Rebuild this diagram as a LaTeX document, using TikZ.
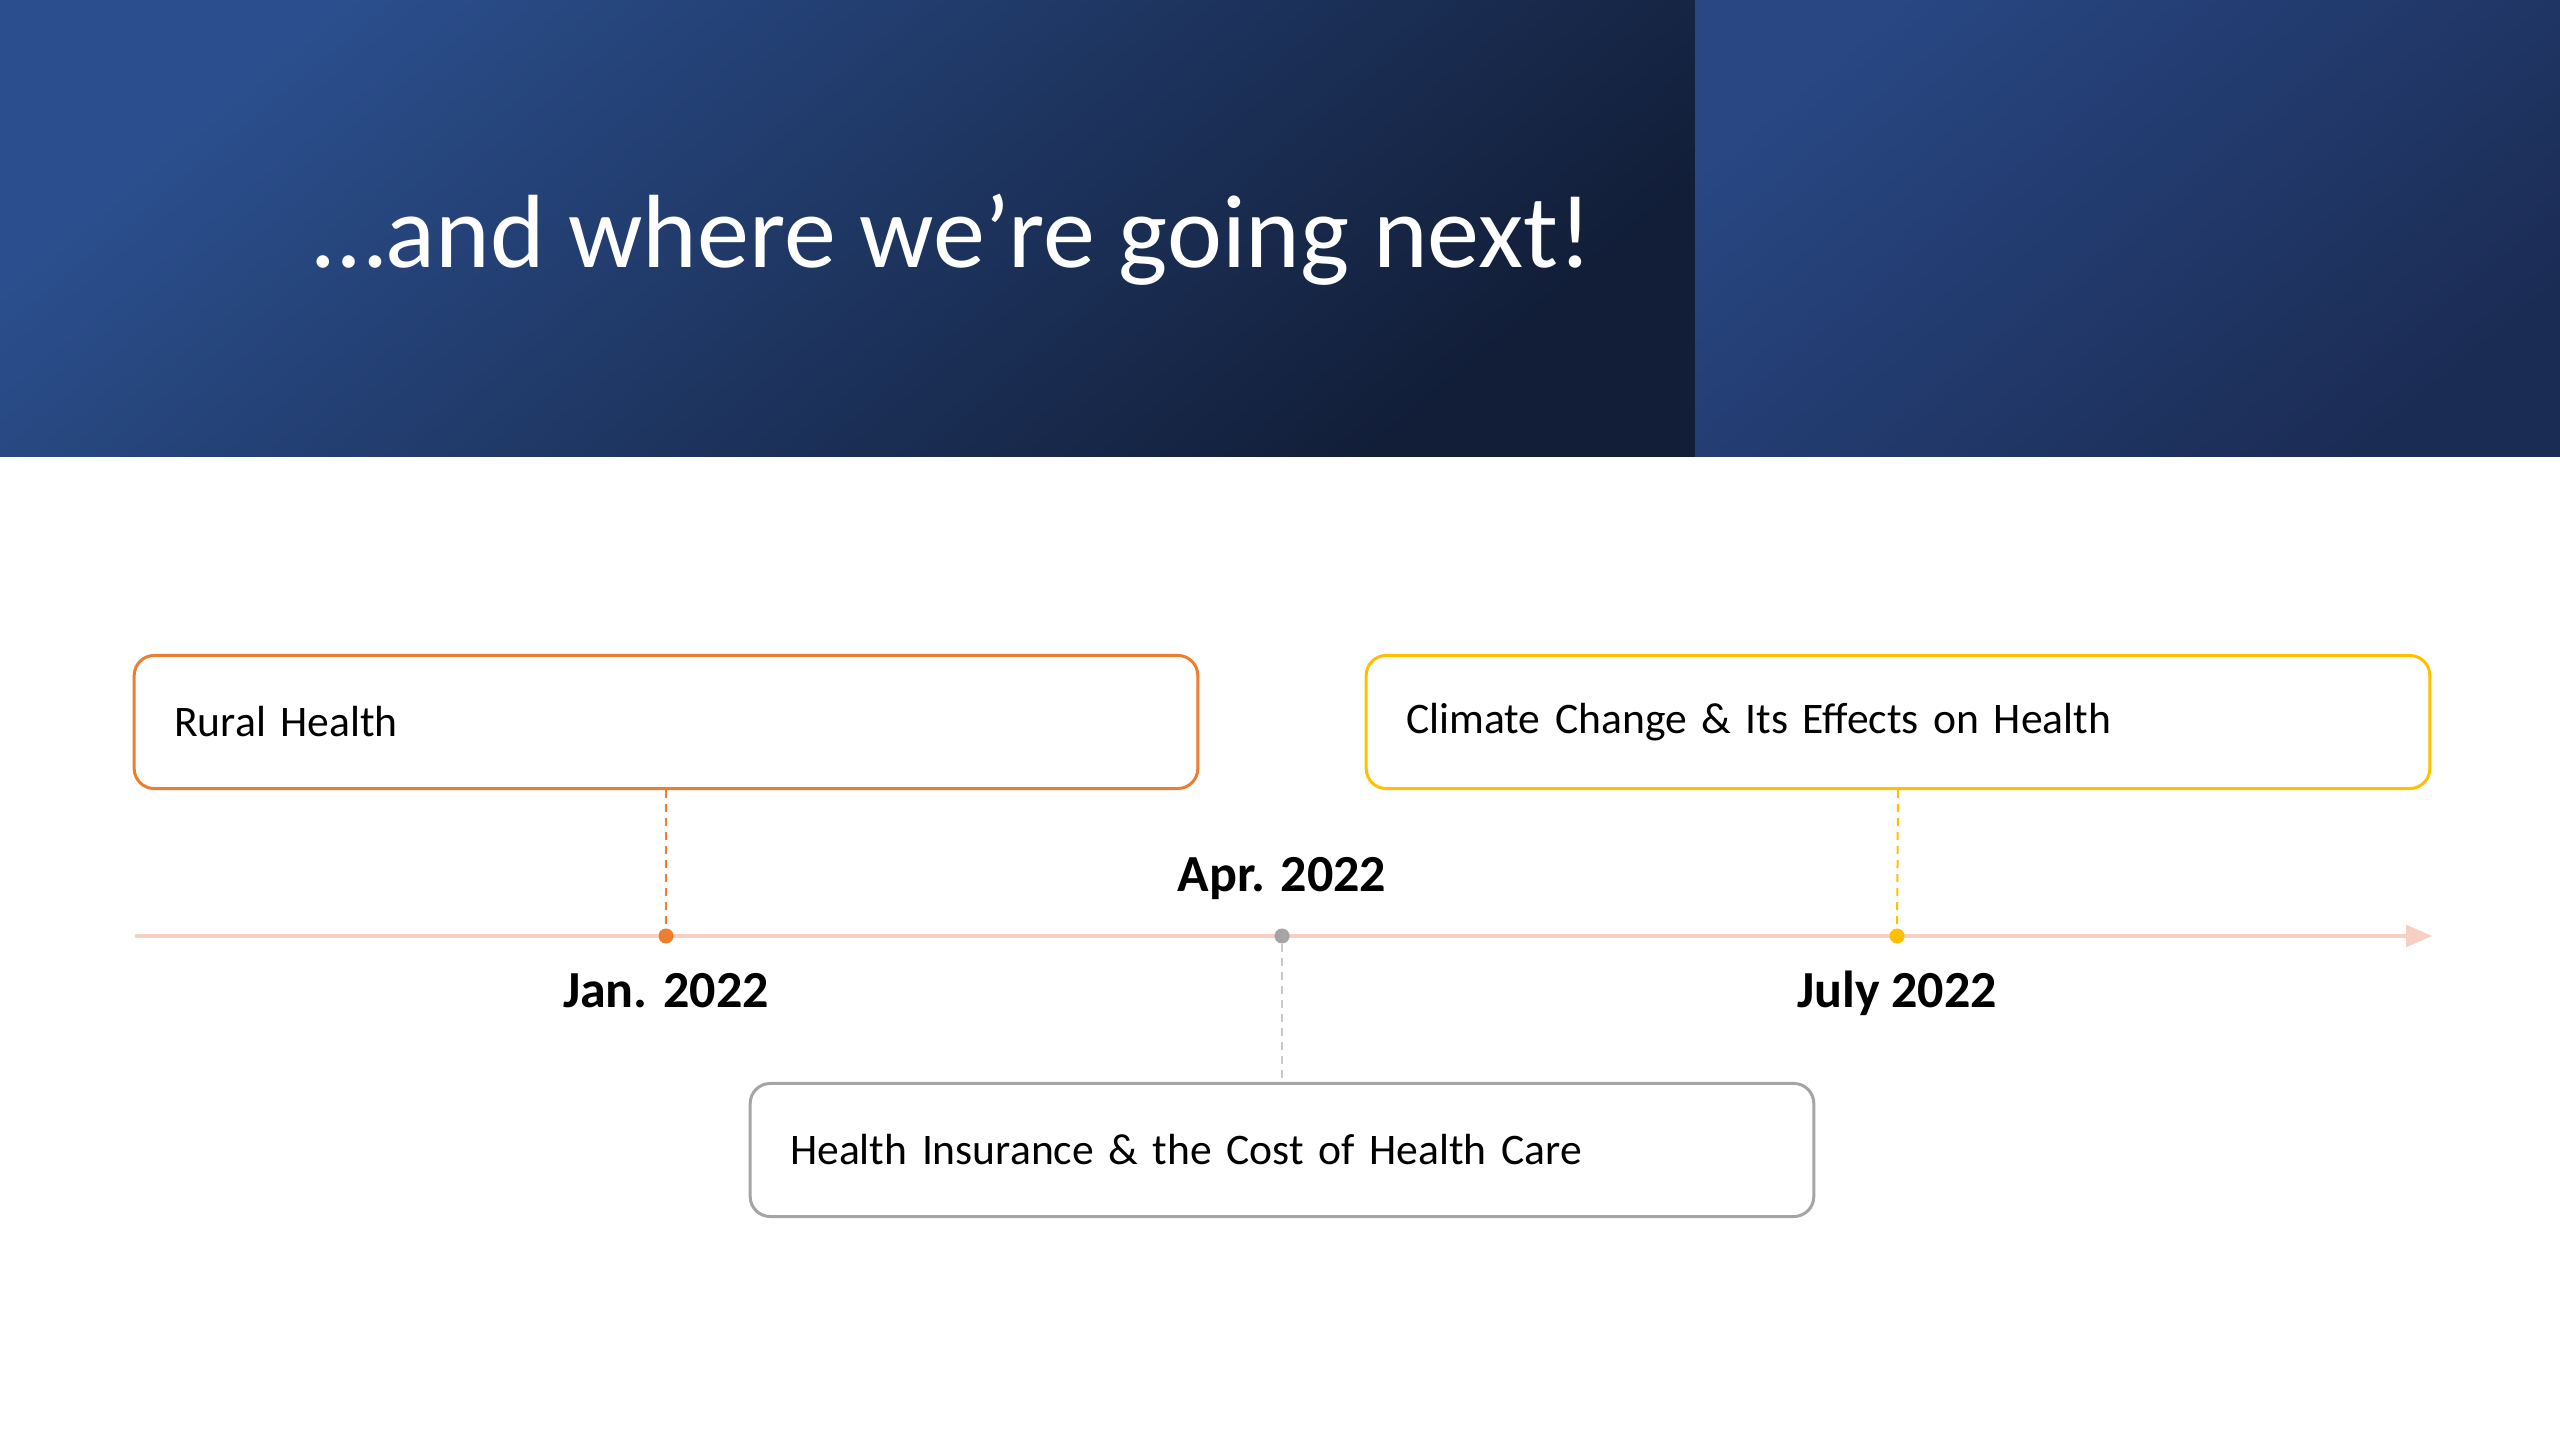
\documentclass[tikz,border=0pt]{standalone}
\usepackage{fontspec}
\setmainfont{Carlito}
\usetikzlibrary{positioning,arrows.meta}

\definecolor{navyLight}{HTML}{2B4F8E}
\definecolor{navyDark}{HTML}{121E38}
\definecolor{navyMid}{HTML}{284783}
\definecolor{navyEnd}{HTML}{1B2C54}
\definecolor{accOrange}{HTML}{ED7D31}
\definecolor{accYellow}{HTML}{FFC000}
\definecolor{accGray}{HTML}{A5A5A5}
\definecolor{tlPink}{HTML}{F7CFC3}

\begin{document}
\begin{tikzpicture}[
        x = 0.01cm, y = -0.01cm,
        box/.style = {draw, line width=0.3mm, rounded corners=2mm, fill=white,
                      minimum height=13.3mm, text width=98.3mm, inner xsep=4mm,
                      align=left, font=\fontsize{12.4}{14}\selectfont},
        dot/.style = {circle, fill, inner sep=0pt, minimum size=1.5mm},
        link/.style = {dashed, line width=0.2mm, dash pattern=on 0.8mm off 0.6mm},
        tl/.style = {color=tlPink, line width=0.3mm, -{Triangle[length=2.6mm, width=2.2mm]}},
        lbl/.style = {anchor=base, inner sep=0pt, font=\bfseries\fontsize{14.8}{17}\selectfont}
    ]
    \useasboundingbox (0,0) rectangle (2560,1440);
    %--- Draw Header ---%
        \shade[top color=navyLight, bottom color=navyDark, shading angle=40] (0,0) rectangle (1695,457);
        \shade[top color=navyMid, bottom color=navyEnd, shading angle=40] (1695,0) rectangle (2560,457);
        \node (title) [anchor=base west, inner sep=0pt, text=white,
            font=\fontsize{29.6}{34}\selectfont] at (313,268) {…and where we’re going next!};
    %--- Draw Timeline ---%
        \coordinate (tlS) at (135,936);
        \coordinate (tlE) at (2432,936);
        \draw[tl] (tlS) -- (tlE);
        \node (jan) [dot, accOrange] at (666,936) {};
        \node (apr) [dot, accGray] at (1282,936) {};
        \node (jul) [dot, accYellow] at (1897,936) {};
    %--- Draw Labels ---%
        \node (lJan) [lbl] at (666,1008) {Jan. 2022};
        \node (lApr) [lbl] at (1282,892) {Apr. 2022};
        \node (lJul) [lbl] at (1897,1008) {July 2022};
    %--- Draw Boxes ---%
        \node (rural) [box, draw=accOrange] at (666,722) {Rural Health};
        \node (climate) [box, draw=accYellow] at (1898,722) {Climate Change \& Its Effects on Health};
        \node (insur) [box, draw=accGray] at (1282,1150) {Health Insurance \& the Cost of Health Care};
    %--- Draw Links ---%
        \draw[link, accOrange] (rural.south) -- (jan);
        \draw[link, accYellow] (climate.south) -- (jul);
        \draw[link, accGray!60] (apr) -- (insur.north);
\end{tikzpicture}
\end{document}
